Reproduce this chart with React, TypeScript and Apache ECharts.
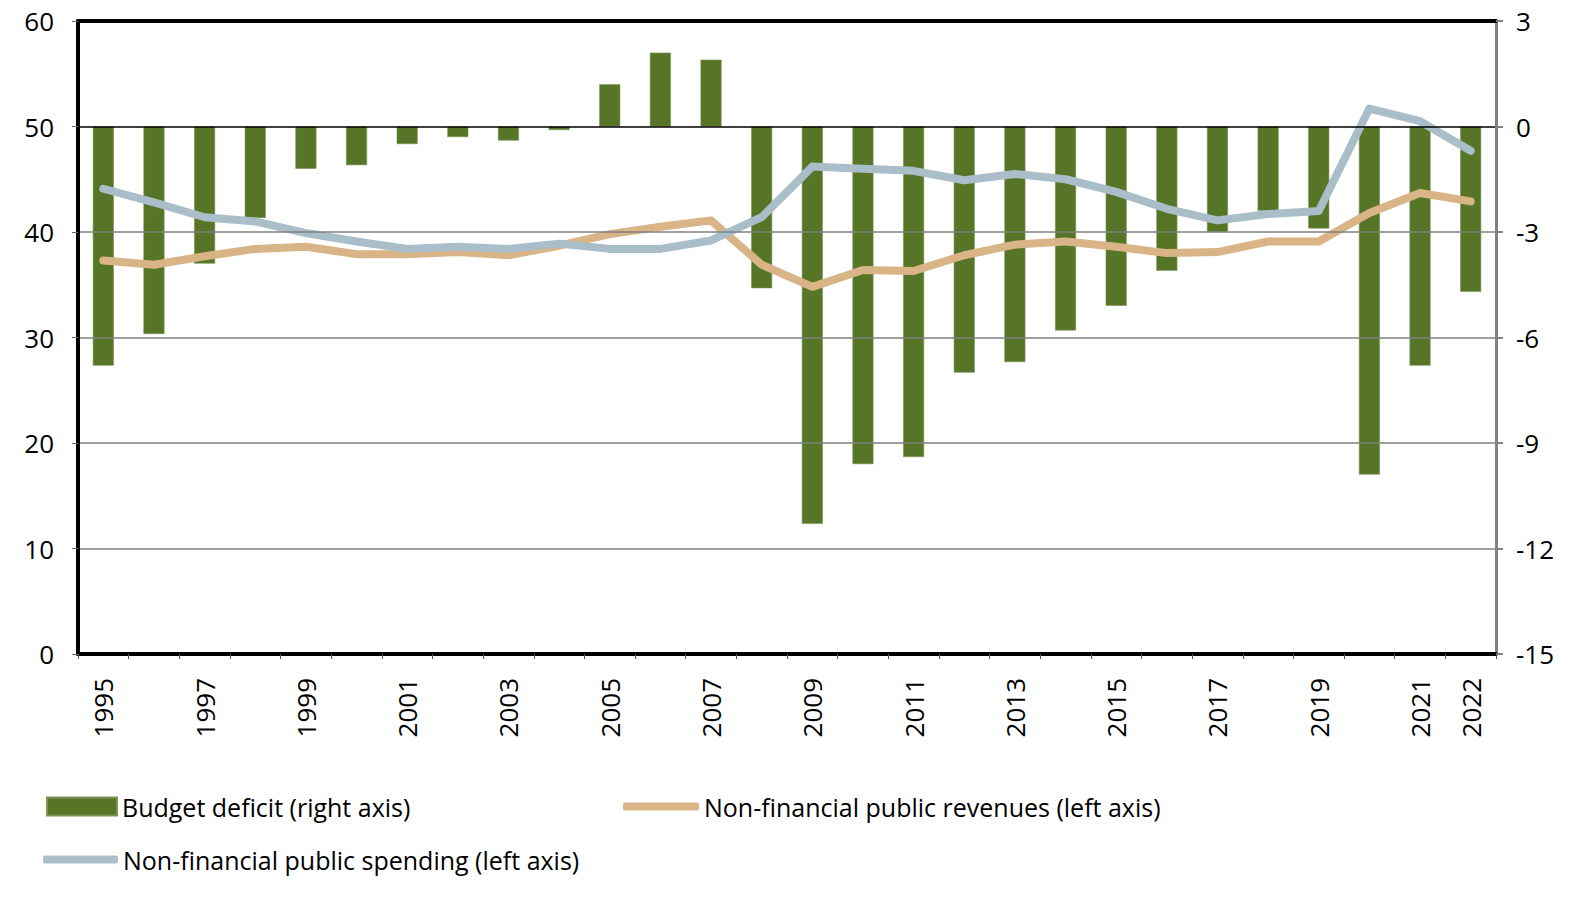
import React, { useEffect, useRef } from 'react';
import * as echarts from 'echarts';

const years = [
  '1995', '1996', '1997', '1998', '1999', '2000', '2001', '2002', '2003', '2004',
  '2005', '2006', '2007', '2008', '2009', '2010', '2011', '2012', '2013', '2014',
  '2015', '2016', '2017', '2018', '2019', '2020', '2021', '2022',
];

// right axis, % of GDP
const budgetDeficit = [
  -6.8, -5.9, -3.9, -2.6, -1.2, -1.1, -0.5, -0.3, -0.4, -0.1,
  1.2, 2.1, 1.9, -4.6, -11.3, -9.6, -9.4, -7.0, -6.7, -5.8,
  -5.1, -4.1, -3.0, -2.4, -2.9, -9.9, -6.8, -4.7,
];

// left axis
const publicRevenues = [
  37.3, 36.9, 37.7, 38.4, 38.6, 37.9, 37.9, 38.1, 37.8, 38.7,
  39.8, 40.5, 41.1, 36.9, 34.8, 36.4, 36.3, 37.8, 38.8, 39.1,
  38.6, 38.0, 38.1, 39.1, 39.1, 41.8, 43.7, 42.9,
];

const publicSpending = [
  44.1, 42.8, 41.4, 41.0, 39.9, 39.1, 38.4, 38.6, 38.4, 38.9,
  38.4, 38.4, 39.2, 41.4, 46.2, 46.0, 45.8, 44.9, 45.5, 45.0,
  43.8, 42.2, 41.1, 41.7, 42.0, 51.7, 50.5, 47.7,
];

const NAME_DEFICIT = 'Budget deficit (right axis)';
const NAME_REVENUES = 'Non-financial public revenues (left axis)';
const NAME_SPENDING = 'Non-financial public spending (left axis)';

const FONT = '"Open Sans", "Noto Sans", sans-serif';
const GREEN = '#567526';
const TAN = '#D8B487';
const BLUE = '#A9BEC8';
const GRID_GREY = '#808080';

export default function App() {
  const chartRef = useRef<HTMLDivElement>(null);

  useEffect(() => {
    if (!chartRef.current) return () => {};
    const chart = echarts.init(chartRef.current, null, { renderer: 'svg' });

    const legendText = { fontFamily: FONT, fontSize: 25, color: '#000' };

    chart.setOption({
      animation: false,
      grid: { left: 78, right: 75, top: 21, bottom: 247, containLabel: false },
      legend: [
        {
          data: [NAME_DEFICIT],
          left: 46, top: 794, padding: 0,
          icon: 'rect', itemWidth: 70, itemHeight: 18,
          textStyle: legendText,
        },
        {
          data: [NAME_REVENUES],
          left: 623, top: 794, padding: 0,
          icon: 'roundRect', itemWidth: 76, itemHeight: 8,
          textStyle: legendText,
        },
        {
          data: [NAME_SPENDING],
          left: 43, top: 847, padding: 0,
          icon: 'roundRect', itemWidth: 75, itemHeight: 8,
          textStyle: legendText,
        },
      ],
      xAxis: [
        {
          type: 'category',
          data: years,
          position: 'bottom',
          boundaryGap: true,
          z: 5,
          axisLine: { onZero: false, lineStyle: { color: '#000', width: 4 } },
          axisTick: {
            show: true, alignWithLabel: false, interval: 0, length: 5,
            lineStyle: { color: '#555', width: 1 },
          },
          axisLabel: {
            rotate: 90,
            margin: 24,
            interval: (i: number) => i % 2 === 0 || i === years.length - 1,
            fontFamily: FONT, fontSize: 26, color: '#000',
          },
        },
        {
          type: 'category',
          data: years,
          position: 'top',
          z: 5,
          axisLine: { show: true, onZero: false, lineStyle: { color: '#000', width: 4 } },
          axisTick: { show: false },
          axisLabel: { show: false },
        },
      ],
      yAxis: [
        {
          type: 'value',
          min: 0, max: 60, interval: 10,
          position: 'left',
          z: 5,
          axisLine: { show: true, lineStyle: { color: '#000', width: 4 } },
          axisTick: { show: true, length: 6, lineStyle: { color: '#666', width: 1 } },
          axisLabel: { margin: 24, fontFamily: FONT, fontSize: 26, color: '#000' },
          splitLine: {
            show: true,
            // the 50 line is the zero line of the right axis, drawn in black
            lineStyle: {
              color: [GRID_GREY, GRID_GREY, GRID_GREY, GRID_GREY, GRID_GREY, '#000', GRID_GREY],
              width: 1.5,
            },
          },
        },
        {
          type: 'value',
          min: -15, max: 3, interval: 3,
          position: 'right',
          z: 5,
          axisLine: { show: true, lineStyle: { color: '#808080', width: 3 } },
          axisTick: { show: true, length: 7, lineStyle: { color: '#808080', width: 2 } },
          axisLabel: { margin: 20, fontFamily: FONT, fontSize: 26, color: '#000' },
          splitLine: { show: false },
        },
      ],
      series: [
        {
          name: NAME_DEFICIT,
          type: 'bar',
          yAxisIndex: 1,
          data: budgetDeficit,
          barWidth: 21,
          itemStyle: { color: GREEN, borderColor: '#7a9456', borderWidth: 0.6 },
          z: 2,
        },
        {
          name: NAME_REVENUES,
          type: 'line',
          data: publicRevenues,
          symbol: 'none',
          lineStyle: { color: TAN, width: 8, cap: 'round', join: 'round' },
          itemStyle: { color: TAN },
          z: 3,
        },
        {
          name: NAME_SPENDING,
          type: 'line',
          data: publicSpending,
          symbol: 'none',
          lineStyle: { color: BLUE, width: 8, cap: 'round', join: 'round' },
          itemStyle: { color: BLUE },
          z: 4,
        },
      ],
    });

    const handleResize = () => chart.resize();
    window.addEventListener('resize', handleResize);
    return () => {
      window.removeEventListener('resize', handleResize);
      chart.dispose();
    };
  }, []);

  return (
    <div
      ref={chartRef}
      style={{
        position: 'fixed',
        left: 0,
        top: 0,
        width: 1571,
        height: 901,
        background: '#fff',
      }}
    />
  );
}
